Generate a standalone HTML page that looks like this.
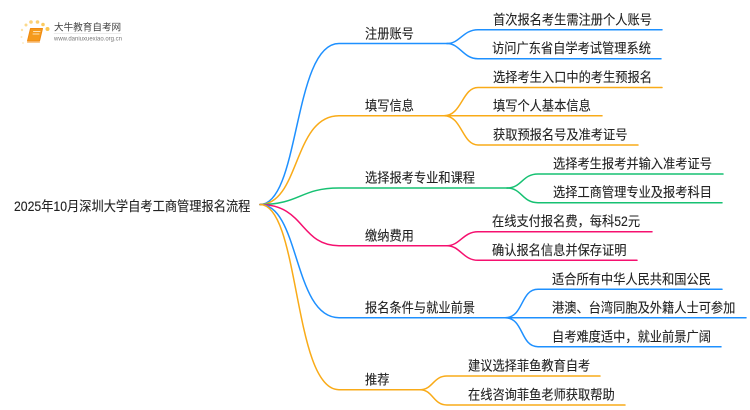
<!DOCTYPE html>
<html lang="zh"><head><meta charset="utf-8"><style>
html,body{margin:0;padding:0;background:#fff;width:750px;height:410px;overflow:hidden}
svg{display:block;filter:blur(.25px)}
text{font-family:"Liberation Sans","Noto Sans CJK SC",sans-serif;font-size:13.6px;fill:#222}
.t{stroke:#222;stroke-width:.12px}
path{fill:none;stroke-width:1.5;stroke-linecap:round}
.b path{stroke:#1e90ff}.o path{stroke:#f9ab18}.g path{stroke:#16c172}.p path{stroke:#f5106f}
</style></head><body>
<svg width="750" height="410" viewBox="0 0 750 410" xmlns="http://www.w3.org/2000/svg">
<g class="b">
<path d="M260 204.500C300 204.500 293 43.500 339 43.500H447"/>
<path d="M447 43.500C460 43.500 463 29.700 478 29.700H662"/>
<path d="M447 43.500C460 43.500 463 58.700 478 58.700H661"/>
</g>
<g class="o">
<path d="M260 204.500C300 204.500 293 115.700 339 115.700H444"/>
<path d="M444 115.700C462 115.700 462 87.500 478 87.500H662"/>
<path d="M444 115.700H602"/>
<path d="M444 115.700C462 115.700 462 145 478 145H638"/>
</g>
<g class="g">
<path d="M260 204.500C300 204.500 300 188 339 188H507"/>
<path d="M507 188C522 188 522 174 538 174H723"/>
<path d="M507 188C522 188 522 202.700 538 202.700H722"/>
</g>
<g class="p">
<path d="M260 204.500C305 204.500 300 245.700 339 245.700H447"/>
<path d="M447 245.700C460 245.700 463 231.700 478 231.700H652"/>
<path d="M447 245.700C460 245.700 463 260.300 478 260.300H637"/>
</g>
<g class="b">
<path d="M260 204.500C300 204.500 293 317.700 339 317.700H505"/>
<path d="M505 317.700C524 317.700 520 289.300 538 289.300H722"/>
<path d="M505 317.700H746"/>
<path d="M505 317.700C524 317.700 520 346.700 538 346.700H721"/>
</g>
<g class="o">
<path d="M260 204.500C300 204.500 293 389.700 339 389.700H420"/>
<path d="M420 389.700C433 389.700 433 376 447 376H600"/>
<path d="M420 389.700C433 389.700 433 405 447 405H625"/>
</g>

<g class="t">
<text transform="translate(14 211) scale(.9 1)">2025年10月深圳大学自考工商管理报名流程</text>

<text transform="translate(365 38.500) scale(.9 1)">注册账号</text>
<text transform="translate(493 24.500) scale(.9 1)">首次报名考生需注册个人账号</text>
<text transform="translate(492 53) scale(.9 1)">访问广东省自学考试管理系统</text>

<text transform="translate(365 110.500) scale(.9 1)">填写信息</text>
<text transform="translate(493 82) scale(.9 1)">选择考生入口中的考生预报名</text>
<text transform="translate(493 110.500) scale(.9 1)">填写个人基本信息</text>
<text transform="translate(493 139.500) scale(.9 1)">获取预报名号及准考证号</text>

<text transform="translate(365 182.500) scale(.9 1)">选择报考专业和课程</text>
<text transform="translate(553 168.500) scale(.9 1)">选择考生报考并输入准考证号</text>
<text transform="translate(553 197) scale(.9 1)">选择工商管理专业及报考科目</text>

<text transform="translate(365 240.500) scale(.9 1)">缴纳费用</text>
<text transform="translate(492 226) scale(.9 1)">在线支付报名费，每科52元</text>
<text transform="translate(492 255) scale(.9 1)">确认报名信息并保存证明</text>

<text transform="translate(365 312.500) scale(.9 1)">报名条件与就业前景</text>
<text transform="translate(552 284) scale(.9 1)">适合所有中华人民共和国公民</text>
<text transform="translate(552 312.500) scale(.9 1)">港澳、台湾同胞及外籍人士可参加</text>
<text transform="translate(552 341.500) scale(.9 1)">自考难度适中，就业前景广阔</text>

<text transform="translate(365 384.500) scale(.9 1)">推荐</text>
<text transform="translate(468 370.500) scale(.9 1)">建议选择菲鱼教育自考</text>
<text transform="translate(468 399.500) scale(.9 1)">在线咨询菲鱼老师获取帮助</text>
</g>

<g>
<circle cx="26" cy="25" r="1.500" fill="#fbd98c"/>
<circle cx="22" cy="30" r="1.200" fill="#fde3a8"/>
<circle cx="21.500" cy="37" r="1" fill="#fde9bd"/>
<circle cx="23" cy="43" r="1" fill="#fdeecb"/>
<circle cx="31" cy="22" r="1.800" fill="#fbd27a"/>
<circle cx="37.500" cy="22" r="1.800" fill="#fbcf70"/>
<circle cx="43" cy="24.500" r="1.800" fill="#fbcb60"/>
<circle cx="47.500" cy="29" r="2" fill="#fbc64f"/>
<path d="M30.500 28.500H42.500L39.500 41H27.500Z" style="fill:#f59a1c;stroke:#f08a10;stroke-width:1;stroke-linejoin:round"/>
<path d="M27.500 42.300H39.500" style="stroke:#f8b768;stroke-width:1"/>
<path d="M33.500 31.500H40M33 34H39" style="stroke:#fde2b5;stroke-width:1"/>
</g>
<text x="54" y="30.500" style="font-size:9.600px;fill:#444">大牛教育自考网</text>
<path d="M54 33.500H121" style="stroke:#d9d9d9;stroke-width:.6"/>
<text x="54" y="40.500" textLength="68" lengthAdjust="spacingAndGlyphs" style="font-size:6px;fill:#777">www.daniuxuexiao.org.cn</text>
</svg>
</body></html>
